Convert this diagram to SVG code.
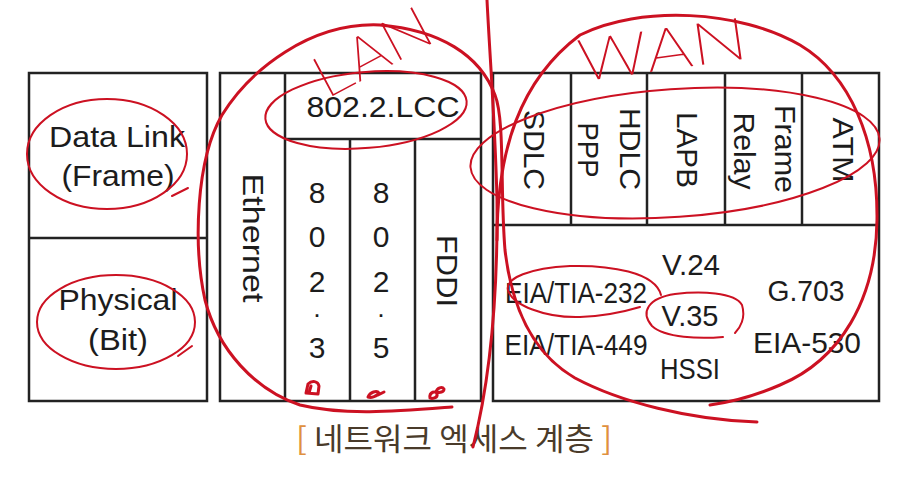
<svg xmlns="http://www.w3.org/2000/svg" width="916" height="478" viewBox="0 0 916 478">
<style>
.box{fill:#fff;stroke:#222;stroke-width:2.5}
.ln{stroke:#222;stroke-width:2.5;fill:none}
.t{font-family:"Liberation Sans",Arial,sans-serif;font-size:30px;fill:#1c1c1c}
.m{text-anchor:middle}
.v{text-anchor:middle;dominant-baseline:central}
.dot{font-family:"Liberation Sans",Arial,sans-serif;font-size:18px;font-weight:bold;fill:#1c1c1c;text-anchor:middle}
.red{fill:none;stroke:#cc1122;stroke-linecap:round;stroke-linejoin:round}
.thick{stroke-width:3}
.thin{stroke-width:2}
.hand{font-family:Roboto,"DejaVu Sans",sans-serif;font-weight:100;font-size:58px;fill:#cc1122;text-anchor:middle}
.title{font-family:"Noto Sans CJK KR","Noto Sans",sans-serif;font-size:31px;fill:#4a3b2a}
.br{fill:#e0903e}
</style>
<rect width="916" height="478" fill="#fff"/>

<g id="layer-column">
  <rect class="box" x="29" y="73" width="178" height="328"/>
  <line class="ln" x1="29" y1="238" x2="207" y2="238"/>
  <g id="datalink">
    <text class="t m" x="117" y="147" textLength="136" lengthAdjust="spacingAndGlyphs">Data Link</text>
    <text class="t m" x="118" y="186" textLength="113" lengthAdjust="spacingAndGlyphs">(Frame)</text>
  </g>
  <g id="physical">
    <text class="t m" x="118" y="310" textLength="119" lengthAdjust="spacingAndGlyphs">Physical</text>
    <text class="t m" x="118" y="350" textLength="60" lengthAdjust="spacingAndGlyphs">(Bit)</text>
  </g>
</g>

<g id="lan-block">
  <rect class="box" x="220" y="73" width="261" height="328"/>
  <line class="ln" x1="285" y1="73" x2="285" y2="401"/>
  <line class="ln" x1="285" y1="139" x2="481" y2="139"/>
  <line class="ln" x1="350" y1="139" x2="350" y2="401"/>
  <line class="ln" x1="415" y1="139" x2="415" y2="401"/>
  <g id="ethernet">
    <text class="t v" transform="rotate(90 253 238)" x="253" y="238" textLength="129" lengthAdjust="spacingAndGlyphs">Ethernet</text>
  </g>
  <g id="llc">
    <text class="t m" x="383" y="117" textLength="153" lengthAdjust="spacingAndGlyphs">802.2.LCC</text>
  </g>
  <g id="ieee8023">
    <text class="t m"><tspan x="317" y="203">8</tspan><tspan x="317" y="247">0</tspan><tspan x="317" y="292">2</tspan></text>
    <text class="dot" x="317" y="317">.</text>
    <text class="t m" x="317" y="358">3</text>
  </g>
  <g id="ieee8025">
    <text class="t m"><tspan x="381" y="203">8</tspan><tspan x="381" y="247">0</tspan><tspan x="381" y="292">2</tspan></text>
    <text class="dot" x="381" y="317">.</text>
    <text class="t m" x="381" y="358">5</text>
  </g>
  <g id="fddi">
    <text class="t v" transform="rotate(90 447 271)" x="447" y="271" textLength="72" lengthAdjust="spacingAndGlyphs">FDDI</text>
  </g>
</g>

<g id="wan-block">
  <rect class="box" x="493" y="73" width="386" height="328"/>
  <line class="ln" x1="493" y1="225" x2="879" y2="225"/>
  <line class="ln" x1="571" y1="73" x2="571" y2="225"/>
  <line class="ln" x1="647" y1="73" x2="647" y2="225"/>
  <line class="ln" x1="725" y1="73" x2="725" y2="225"/>
  <line class="ln" x1="802" y1="73" x2="802" y2="225"/>
  <g id="sdlc"><text class="t v" transform="rotate(90 534 150)" x="534" y="150" textLength="80" lengthAdjust="spacingAndGlyphs">SDLC</text></g>
  <g id="hdlc-ppp">
    <text class="t v" transform="rotate(90 630 149)" x="630" y="149" textLength="82" lengthAdjust="spacingAndGlyphs">HDLC</text>
    <text class="t v" transform="rotate(90 588 150)" x="588" y="150" textLength="55" lengthAdjust="spacingAndGlyphs">PPP</text>
  </g>
  <g id="lapb"><text class="t v" transform="rotate(90 687 150)" x="687" y="150" textLength="76" lengthAdjust="spacingAndGlyphs">LAPB</text></g>
  <g id="frame-relay">
    <text class="t v" transform="rotate(90 785 149)" x="785" y="149" textLength="88" lengthAdjust="spacingAndGlyphs">Frame</text>
    <text class="t v" transform="rotate(90 744 151)" x="744" y="151" textLength="77" lengthAdjust="spacingAndGlyphs">Relay</text>
  </g>
  <g id="atm"><text class="t v" transform="rotate(90 843 150)" x="843" y="150" textLength="65" lengthAdjust="spacingAndGlyphs">ATM</text></g>
  <g id="wan-physical">
    <text class="t m" x="691" y="275" textLength="58" lengthAdjust="spacingAndGlyphs">V.24</text>
    <text class="t m" x="576" y="303" textLength="142" lengthAdjust="spacingAndGlyphs">EIA/TIA-232</text>
    <text class="t m" x="806" y="301" textLength="77" lengthAdjust="spacingAndGlyphs">G.703</text>
    <text class="t m" x="690" y="326" textLength="57" lengthAdjust="spacingAndGlyphs">V.35</text>
    <text class="t m" x="576" y="355" textLength="143" lengthAdjust="spacingAndGlyphs">EIA/TIA-449</text>
    <text class="t m" x="807" y="353" textLength="108" lengthAdjust="spacingAndGlyphs">EIA-530</text>
    <text class="t m" x="690" y="379" textLength="60" lengthAdjust="spacingAndGlyphs">HSSI</text>
  </g>
</g>

<g id="caption">
  <text class="title" x="454" y="450" text-anchor="middle" textLength="316" lengthAdjust="spacingAndGlyphs"><tspan class="br">[</tspan> 네트워크 엑세스 계층 <tspan class="br">]</tspan></text>
</g>

<g id="annotations">
  <path class="red thick" d="M757,422 C690,420 620,402 575,378 C535,355 512,310 505,250 C500,190 505,120 495,95 C480,55 440,30 380,25 C310,22 250,70 222,115 C196,160 193,245 205,300 C218,350 255,390 300,405 C345,416 400,411 452,407"/>
  <path class="red thick" d="M497,240 C497,150 520,80 580,35 C640,5 740,10 800,45 C850,75 878,140 877,220 C876,300 840,360 780,385 C750,398 725,403 710,405"/>
  <path class="red thick" d="M487,0 C490,60 495,120 497,200 C498,300 490,380 473,447"/>
  <ellipse class="red thin" cx="107" cy="154" rx="80" ry="55"/>
  <path class="red thin" d="M172,196 L188,188"/>
  <ellipse class="red thin" cx="116" cy="322" rx="79" ry="47"/>
  <path class="red thin" d="M178,356 L192,346"/>
  <ellipse class="red thin" cx="366" cy="110" rx="101" ry="38" transform="rotate(-5 366 110)"/>
  <ellipse class="red thin" cx="675" cy="153" rx="205" ry="64" transform="rotate(-4 675 153)"/>
  <path class="red thin" d="M661,295 C655,272 610,265 570,266 C530,268 505,278 508,290 C512,305 545,318 580,317 C610,316 630,310 640,307"/>
  <path class="red thin" d="M723,337 C700,339 665,338 652,326 C640,312 648,298 675,294 C700,291 735,292 742,305 C746,318 740,328 735,333"/>
  <path class="red thick" d="M306,393 L308,384 C312,380 318,381 319,386 L318,394 Z M311,386 L309,393"/>
  <path class="red thick" d="M368,397 C370,392 377,390 379,393 C376,397 371,398 368,397 Z M378,395 L384,392"/>
  <path class="red thick" d="M430,398 C429,392 436,390 437,394 C438,398 432,399 430,398 Z M436,392 C437,388 442,386 444,389 C444,392 440,393 436,392 Z"/>
  <text class="hand" x="382" y="70" transform="rotate(-28 382 70)" textLength="125" lengthAdjust="spacingAndGlyphs">LAN</text>
  <text class="hand" x="665" y="70" transform="rotate(-8 665 70)" textLength="170" lengthAdjust="spacingAndGlyphs" font-size="64">WAN</text>
</g>
</svg>
